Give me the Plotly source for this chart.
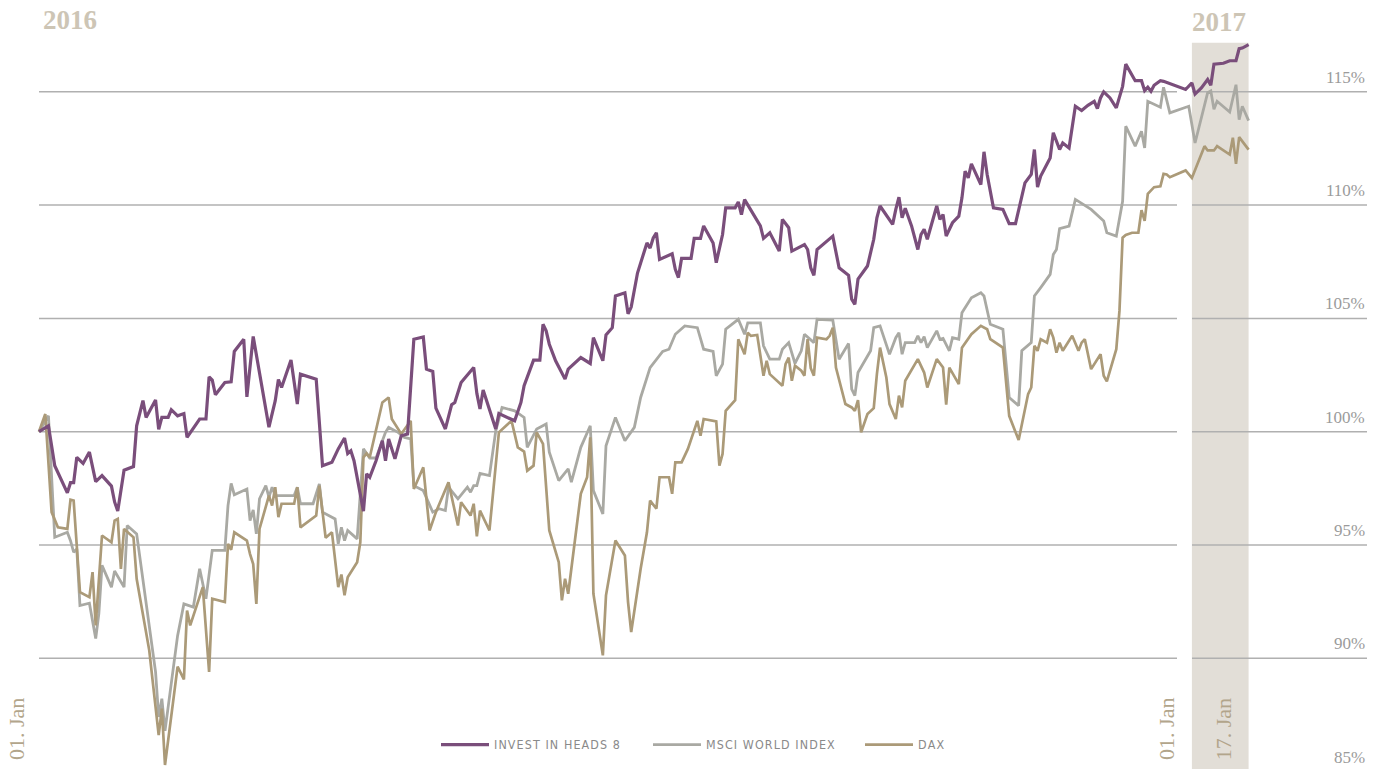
import pandas as pd
import plotly.graph_objects as go

# ---------------- data (days since 2016-01-01, index level in %) ----------------
START = "2016-01-01"

invest_days = [0, 3, 5, 9, 10, 11, 12, 14, 16, 18, 20, 23, 24, 25, 27, 30, 31, 33, 34, 37,
               38, 39, 41, 42, 44, 46, 47, 51, 53, 54, 55, 56, 59, 61, 62, 65, 66, 68, 73, 75,
               76, 77, 80, 82, 83, 88, 90, 93, 95, 97, 98, 99, 100, 103, 104, 105, 107, 109, 110, 111,
               113, 115, 117, 119, 122, 123, 125, 126, 129, 131, 132, 134, 138, 139, 140, 141, 145, 146, 151, 153,
               154, 157, 159, 160, 161, 162, 164, 167, 168, 172, 175, 176, 179, 180, 182, 183, 186, 187, 188, 190,
               193, 194, 195, 196, 197, 201, 202, 203, 204, 207, 208, 210, 211, 214, 215, 217, 218, 221, 222, 223,
               224, 227, 229, 230, 232, 235, 236, 238, 239, 243, 244, 245, 246, 247, 252, 254, 257, 258, 259, 260,
               263, 265, 266, 267, 271, 272, 273, 274, 275, 277, 279, 280, 281, 282, 285, 286, 287, 288, 290, 292,
               293, 294, 295, 296, 299, 300, 301, 303, 306, 308, 310, 313, 315, 316, 317, 318, 321, 322, 324, 325,
               327, 329, 331, 333, 335, 336, 337, 338, 340, 342, 344, 345, 348, 350, 351, 352, 353, 354, 356, 357,
               360, 363, 364, 366, 367, 369, 371, 372, 373, 376, 378, 380, 381, 382, 384]
invest_vals = [100.0, 100.26, 98.5, 97.3, 97.75, 97.75, 98.87, 98.6, 99.1, 97.8, 98.06, 97.6, 96.9, 96.5, 98.3, 98.46, 100.26, 101.37, 100.63, 101.4,
               100.1, 100.63, 100.63, 100.97, 100.7, 100.8, 99.75, 100.56, 100.56, 102.42, 102.28, 101.63, 102.17, 102.2, 103.54, 104.08, 101.54, 104.2, 100.2, 101.37,
               102.3, 101.95, 103.16, 101.22, 102.54, 102.32, 98.5, 98.65, 99.24, 99.72, 99.04, 99.16, 98.72, 96.49, 98.14, 97.99, 98.72, 99.6, 98.72, 99.68,
               98.8, 99.82, 99.9, 104.08, 104.18, 102.76, 102.66, 101.04, 100.12, 101.19, 101.29, 102.17, 102.83, 101.69, 101.0, 101.84, 100.12, 100.8, 100.48, 101.29,
               102.03, 103.16, 103.16, 104.74, 104.45, 103.86, 103.13, 102.32, 102.76, 103.27, 103.01, 104.15, 103.13, 104.27, 104.59, 105.99, 106.13, 105.2, 105.5, 107.0,
               108.33, 108.1, 108.55, 108.78, 107.6, 107.85, 107.17, 106.8, 107.65, 107.65, 108.53, 108.53, 109.08, 108.33, 107.46, 108.7, 109.88, 109.88, 110.14, 109.58,
               110.24, 109.58, 109.08, 108.53, 108.78, 107.97, 109.37, 109.0, 107.97, 108.26, 108.04, 107.23, 106.9, 108.04, 108.63, 107.23, 106.9, 105.85, 105.62, 106.73,
               107.31, 108.49, 109.44, 109.96, 109.15, 109.81, 110.35, 109.44, 109.86, 109.08, 108.04, 108.7, 108.93, 108.49, 109.96, 109.37, 109.58, 108.63, 109.22, 109.51,
               110.32, 111.5, 111.2, 111.82, 110.9, 112.35, 111.35, 109.88, 109.81, 109.18, 109.18, 110.98, 111.35, 112.45, 110.79, 111.28, 112.08, 113.19, 112.45, 112.74,
               112.52, 114.36, 114.17, 114.4, 114.58, 114.26, 114.73, 115.0, 114.73, 114.29, 115.24, 116.22, 115.49, 115.49, 115.05, 115.2, 115.02, 115.29, 115.49, 115.46,
               115.29, 115.14, 115.1, 115.39, 114.9, 115.17, 115.54, 115.29, 116.22, 116.26, 116.37, 116.37, 116.9, 116.93, 117.08]

msci_days = [0, 3, 5, 9, 10, 11, 12, 13, 16, 18, 19, 20, 23, 24, 27, 28, 31, 37, 38, 39,
             40, 42, 44, 46, 49, 51, 53, 55, 59, 60, 61, 62, 66, 67, 68, 69, 70, 72, 73, 74,
             75, 81, 82, 83, 87, 89, 90, 94, 95, 96, 97, 98, 101, 103, 105, 107, 110, 111, 114, 116,
             118, 119, 122, 125, 127, 129, 130, 133, 136, 137, 138, 139, 140, 143, 145, 147, 151, 154, 155, 158,
             161, 162, 165, 168, 169, 172, 175, 176, 179, 180, 183, 186, 189, 191, 194, 198, 200, 202, 205, 209,
             211, 214, 215, 217, 218, 222, 224, 225, 229, 230, 232, 235, 236, 238, 240, 242, 243, 246, 247, 252,
             254, 257, 258, 259, 260, 264, 265, 267, 270, 272, 273, 274, 275, 278, 279, 280, 281, 282, 285, 286,
             287, 289, 290, 292, 293, 296, 299, 300, 301, 302, 306, 308, 311, 312, 315, 316, 318, 321, 322, 323,
             324, 327, 329, 334, 338, 339, 342, 344, 345, 348, 350, 351, 352, 356, 357, 359, 365, 367, 371, 372,
             373, 374, 378, 380, 381, 382, 384]
msci_vals = [100.0, 100.7, 95.34, 95.56, 95.19, 94.68, 94.83, 92.33, 92.43, 90.87, 91.97, 94.1, 93.14, 93.85, 93.14, 95.86, 95.49, 89.4, 87.41, 88.22,
             86.8, 89.0, 91.0, 92.4, 92.26, 93.95, 92.63, 94.76, 94.76, 96.74, 97.72, 97.22, 97.47, 96.08, 96.55, 95.49, 97.04, 97.62, 97.11, 97.55,
             97.18, 97.18, 97.55, 96.82, 96.82, 97.7, 96.45, 96.15, 95.05, 95.78, 95.19, 95.64, 95.27, 99.24, 98.84, 98.84, 99.97, 100.19, 99.97, 99.75,
             99.68, 97.62, 97.4, 96.45, 96.6, 96.52, 97.55, 97.04, 97.55, 97.33, 97.62, 97.62, 98.16, 98.06, 100.04, 101.07, 100.92, 100.63, 99.31, 100.12,
             100.34, 99.09, 97.84, 98.36, 97.77, 99.31, 100.26, 97.4, 96.37, 99.38, 100.63, 99.6, 100.19, 101.51, 102.83, 103.54, 103.64, 104.3, 104.67, 104.59,
             103.64, 103.54, 102.47, 102.98, 104.52, 104.96, 104.3, 104.8, 104.8, 103.79, 103.2, 103.2, 103.64, 103.93, 103.01, 103.57, 104.3, 103.93, 104.96, 104.92,
             103.2, 103.89, 101.88, 101.59, 102.61, 103.57, 104.59, 104.67, 103.42, 104.15, 104.37, 103.42, 103.93, 103.93, 104.23, 103.93, 104.19, 103.71, 104.45, 104.08,
             104.12, 103.57, 104.15, 104.08, 105.25, 105.91, 106.13, 105.99, 105.33, 104.74, 104.52, 101.51, 101.15, 103.57, 103.93, 105.99, 106.36, 106.94, 107.82, 108.04,
             108.96, 109.07, 110.25, 109.81, 109.3, 108.78, 108.63, 110.17, 113.48, 112.6, 113.26, 112.52, 114.58, 114.32, 115.2, 114.07, 114.36, 112.74, 114.96, 115.04,
             114.23, 114.58, 114.11, 115.31, 113.77, 114.36, 113.73]

dax_days = [0, 2, 4, 6, 9, 10, 11, 13, 16, 17, 18, 20, 23, 24, 25, 26, 27, 30, 31, 35,
            38, 39, 40, 44, 46, 47, 48, 52, 54, 55, 59, 60, 61, 62, 66, 67, 68, 69, 70, 73,
            74, 75, 76, 77, 81, 82, 83, 88, 89, 91, 93, 95, 96, 97, 98, 101, 102, 103, 104, 105,
            109, 111, 112, 115, 118, 119, 122, 124, 126, 130, 133, 134, 137, 138, 139, 140, 143, 146, 150, 152,
            154, 155, 157, 158, 160, 162, 165, 166, 167, 168, 172, 174, 175, 176, 179, 180, 183, 186, 187, 188,
            191, 193, 194, 196, 197, 200, 201, 202, 204, 206, 209, 210, 211, 215, 216, 217, 218, 221, 222, 224,
            225, 226, 228, 230, 231, 232, 236, 237, 238, 239, 240, 242, 243, 244, 245, 246, 247, 250, 251, 252,
            253, 256, 258, 259, 260, 261, 263, 265, 266, 267, 269, 270, 272, 273, 274, 275, 279, 281, 282, 285,
            287, 288, 289, 292, 293, 296, 299, 301, 302, 306, 308, 311, 314, 315, 316, 317, 318, 320, 321, 322,
            323, 324, 325, 328, 330, 331, 332, 334, 337, 338, 339, 342, 343, 344, 345, 347, 349, 350, 351, 352,
            354, 356, 357, 358, 359, 364, 366, 370, 371, 373, 374, 378, 379, 380, 381, 384]
dax_vals = [100.0, 100.78, 96.45, 95.78, 95.71, 97.0, 96.96, 92.92, 92.7, 93.8, 91.45, 95.42, 95.12, 96.08, 96.15, 93.95, 95.71, 95.34, 93.51, 90.35,
            86.61, 87.78, 85.29, 89.63, 89.07, 92.11, 91.45, 93.14, 89.4, 92.63, 92.48, 95.05, 94.79, 95.56, 95.19, 94.6, 94.16, 92.4, 95.71, 97.18,
            96.74, 97.55, 96.23, 96.82, 96.82, 97.55, 95.78, 96.3, 97.62, 95.32, 95.56, 93.14, 93.7, 92.78, 93.58, 94.24, 95.12, 98.87, 99.04, 98.87,
            101.29, 101.51, 100.56, 99.9, 100.48, 97.47, 98.43, 95.64, 96.45, 97.77, 95.86, 96.89, 96.3, 96.82, 95.38, 96.52, 95.64, 99.97, 100.48, 99.31,
            99.12, 98.28, 98.5, 99.97, 99.46, 95.64, 94.24, 92.56, 93.51, 92.85, 97.26, 97.99, 99.75, 92.85, 90.13, 92.78, 95.2, 94.54, 92.48, 91.16,
            93.95, 95.56, 96.96, 96.6, 97.99, 97.99, 97.26, 98.65, 98.65, 99.24, 100.48, 99.82, 100.56, 100.45, 98.5, 99.02, 100.92, 101.39, 104.08, 103.42,
            104.37, 104.23, 104.27, 102.47, 103.13, 102.54, 102.03, 102.98, 103.27, 102.25, 102.91, 102.69, 102.47, 104.08, 102.8, 102.47, 104.15, 104.08, 104.23, 104.59,
            102.83, 101.22, 101.07, 100.92, 101.39, 99.97, 100.78, 101.04, 102.54, 103.71, 102.39, 101.22, 100.56, 101.59, 101.07, 102.25, 103.2, 102.61, 101.95, 103.2,
            102.83, 101.19, 102.83, 102.1, 103.71, 104.3, 104.67, 104.52, 104.08, 103.71, 100.7, 99.63, 101.66, 101.95, 103.79, 103.57, 104.08, 103.93, 104.52, 104.15,
            103.49, 103.93, 103.57, 104.23, 103.57, 103.93, 104.08, 102.76, 103.42, 102.47, 102.22, 103.64, 105.33, 108.56, 108.68, 108.78, 108.78, 109.78, 109.3, 110.5,
            110.79, 110.83, 111.38, 111.35, 111.23, 111.53, 111.2, 112.6, 112.41, 112.41, 112.6, 112.23, 112.97, 111.82, 113.0, 112.45]

series_names = ["INVEST IN HEADS 8", "MSCI WORLD INDEX", "DAX"]
y_ticks = [85, 90, 95, 100, 105, 110, 115]
y_tick_labels = ["85%", "90%", "95%", "100%", "105%", "110%", "115%"]
year_labels = ["2016", "2017"]
date_labels = ["01. Jan", "01. Jan", "17. Jan"]
date_label_days = [0, 366, 382]

# ---------------- styling ----------------
W, H = 1383, 769
PURPLE = "#7a4e7b"
GREY = "#a9a9a3"
TAN = "#ab9a78"
BAND = "#e2ded7"
GRID = "#b0b0b0"
LABEL_GREY = "#9b9b9b"
YEAR_COL = "#cdc5b5"
DATE_COL = "#b2a58b"

X0_PX = 39.0        # pixel of 2016-01-01
PX_PER_DAY = 3.15
start = pd.Timestamp(START)


def to_dates(days):
    return start + pd.to_timedelta(days, unit="D")


def spaced(s):
    return "\u200a".join(s)


Y_TOP, Y_BOT = 119.05, 85.115


def y_paper(v):
    return (v - Y_BOT) / (Y_TOP - Y_BOT)


fig = go.Figure()

traces = [
    (msci_days, msci_vals, series_names[1], GREY, 2.8, 2),
    (dax_days, dax_vals, series_names[2], TAN, 2.7, 3),
    (invest_days, invest_vals, series_names[0], PURPLE, 3.2, 1),
]
for d, v, name, col, w, rank in traces:
    fig.add_trace(go.Scatter(
        x=to_dates(d), y=v, mode="lines", name=spaced(name),
        line=dict(color=col, width=w), legendrank=rank,
    ))

x_range = [start - pd.Timedelta(days=X0_PX / PX_PER_DAY),
           start + pd.Timedelta(days=(W - X0_PX) / PX_PER_DAY)]

shapes = []
# 2017 band
shapes.append(dict(type="rect", xref="x", yref="paper",
                   x0=to_dates([366])[0], x1=to_dates([invest_days[-1]])[0],
                   y0=0, y1=(H - 42.7) / H, fillcolor=BAND, line=dict(width=0), layer="below"))
# gridlines (broken before the 2017 band)
for t in y_ticks[1:]:
    for xa, xb in [(39 / W, 1177 / W), (1192 / W, 1367 / W)]:
        shapes.append(dict(type="line", xref="paper", yref="y", x0=xa, x1=xb, y0=t, y1=t,
                           line=dict(color=GRID, width=1.5), layer="below"))

annotations = []
for t, lab in zip(y_ticks, y_tick_labels):
    annotations.append(dict(x=1367 / W, y=y_paper(t), xref="paper", yref="paper", text=lab,
                            showarrow=False, xanchor="right", yanchor="bottom", yshift=3,
                            font=dict(family="Liberation Serif", size=17, color=LABEL_GREY)))
# year labels
annotations.append(dict(x=41 / W, y=(H - 3) / H, xref="paper", yref="paper", text=year_labels[0],
                        showarrow=False, xanchor="left", yanchor="top",
                        font=dict(family="Liberation Serif", size=27, color=YEAR_COL, weight="bold")))
annotations.append(dict(x=1190 / W, y=(H - 5) / H, xref="paper", yref="paper", text=year_labels[1],
                        showarrow=False, xanchor="left", yanchor="top",
                        font=dict(family="Liberation Serif", size=27, color=YEAR_COL, weight="bold")))
# rotated date labels
for lab, dday, xs in zip(date_labels, date_label_days, [-23, -26, -19]):
    annotations.append(dict(x=to_dates([dday])[0], y=(H - 762) / H, xref="x", yref="paper", text=lab,
                            showarrow=False, textangle=-90, xanchor="center", yanchor="bottom", xshift=xs,
                            font=dict(family="Liberation Serif", size=22, color=DATE_COL)))

fig.update_layout(
    width=W, height=H,
    margin=dict(l=0, r=0, t=0, b=0),
    paper_bgcolor="white", plot_bgcolor="white",
    xaxis=dict(range=x_range, visible=False, showgrid=False, zeroline=False),
    yaxis=dict(range=[Y_BOT, Y_TOP], visible=False, showgrid=False, zeroline=False),
    shapes=shapes,
    annotations=annotations,
    showlegend=True,
    legend=dict(orientation="h", x=436 / W, y=(H - 745) / H, xanchor="left", yanchor="middle",
                bgcolor="rgba(0,0,0,0)", entrywidth=149, entrywidthmode="pixels", itemwidth=48,
                font=dict(family="DejaVu Sans Condensed, Roboto", size=12.4, color="#8a8a8a")),
    hovermode=False,
)

fig.write_html("out.html", config={"displayModeBar": False},
               post_script="document.body.style.margin='0';")
